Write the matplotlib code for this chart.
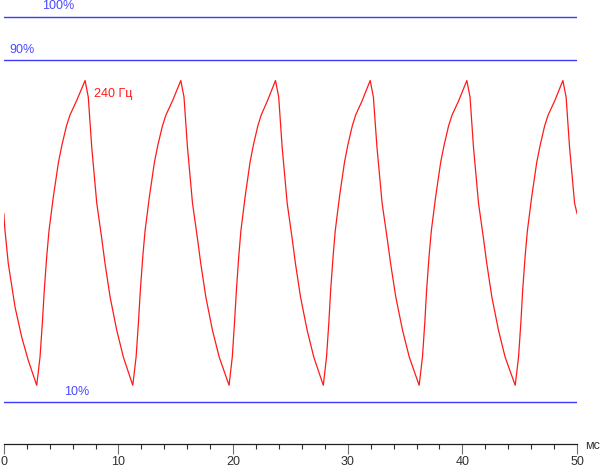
import matplotlib
matplotlib.use("Agg")
import matplotlib.pyplot as plt
from matplotlib.ticker import MultipleLocator

plt.rcParams['font.family'] = ['Liberation Sans', 'DejaVu Sans']

# time (ms) and level (%)
t_ms = [
    0.00, 0.10, 0.39, 0.98, 1.56, 2.14, 2.87,
    3.16, 3.36, 3.53, 3.74, 3.94, 4.32, 4.77, 5.07, 5.47, 5.77, 6.37, 7.09,
    7.37, 7.67, 8.11, 8.54, 8.83, 9.27, 9.85, 10.43, 11.25,
    11.54, 11.74, 11.91, 12.12, 12.32, 12.70, 13.14, 13.44, 13.84, 14.14, 14.74, 15.44,
    15.72, 16.02, 16.46, 16.89, 17.18, 17.62, 18.20, 18.79, 19.65,
    19.93, 20.12, 20.29, 20.49, 20.68, 21.05, 21.48, 21.77, 22.16, 22.45, 23.02, 23.70,
    23.98, 24.28, 24.72, 25.15, 25.44, 25.88, 26.46, 27.04, 27.87,
    28.15, 28.35, 28.51, 28.72, 28.91, 29.28, 29.72, 30.01, 30.40, 30.69, 31.28, 31.96,
    32.24, 32.55, 33.00, 33.44, 33.74, 34.19, 34.78, 35.37, 36.23,
    36.52, 36.72, 36.88, 37.09, 37.29, 37.67, 38.11, 38.41, 38.80, 39.10, 39.70, 40.39,
    40.67, 40.97, 41.41, 41.84, 42.13, 42.57, 43.15, 43.73, 44.61,
    44.90, 45.10, 45.26, 45.47, 45.67, 46.05, 46.49, 46.79, 47.18, 47.48, 48.08, 48.77,
    49.05, 49.35, 49.79, 50.00,
]
level_pct = [
    54.0, 50.1, 42.3, 32.1, 25.1, 19.6, 13.8,
    20.4, 28.3, 36.0, 43.8, 49.9, 57.9, 66.0, 70.0, 74.5, 77.0, 80.5, 85.1,
    81.2, 69.5, 56.4, 48.2, 42.3, 34.5, 26.7, 20.4, 13.8,
    20.4, 28.3, 36.0, 43.8, 49.9, 57.9, 66.0, 70.0, 74.5, 77.0, 80.5, 85.1,
    81.2, 69.5, 56.4, 48.2, 42.3, 34.5, 26.7, 20.4, 13.8,
    20.4, 28.3, 36.0, 43.8, 49.9, 57.9, 66.0, 70.0, 74.5, 77.0, 80.5, 85.1,
    81.2, 69.5, 56.4, 48.2, 42.3, 34.5, 26.7, 20.4, 13.8,
    20.4, 28.3, 36.0, 43.8, 49.9, 57.9, 66.0, 70.0, 74.5, 77.0, 80.5, 85.1,
    81.2, 69.5, 56.4, 48.2, 42.3, 34.5, 26.7, 20.4, 13.8,
    20.4, 28.3, 36.0, 43.8, 49.9, 57.9, 66.0, 70.0, 74.5, 77.0, 80.5, 85.1,
    81.2, 69.5, 56.4, 48.2, 42.3, 34.5, 26.7, 20.4, 13.8,
    20.4, 28.3, 36.0, 43.8, 49.9, 57.9, 66.0, 70.0, 74.5, 77.0, 80.5, 85.1,
    81.2, 69.5, 56.4, 54.0,
]

ref_levels = [100, 90, 10]
ref_labels = ["100%", "90%", "10%"]
ref_label_x = [3.31, 0.48, 5.25]
ref_label_y = [101.9, 91.5, 11.5]

freq_label = "240 Гц"
freq_label_pos = (7.90, 81.2)

x_ticks = [0, 10, 20, 30, 40, 50]
x_unit = "мс"

BLUE = '#3c3cff'
RED = '#ff1a1a'

fig = plt.figure(figsize=(6.0, 4.68), dpi=100)
ax = fig.add_axes([3.8 / 600, (468 - 444.3) / 468, (577.0 - 3.8) / 600, 444.3 / 468])
ax.set_xlim(0, 50)
ax.set_ylim(0, 444.3 / 4.275)

for lv in ref_levels:
    ax.axhline(lv, color=BLUE, lw=1.0)
for lab, lx, ly in zip(ref_labels, ref_label_x, ref_label_y):
    ax.text(lx, ly, lab, color='#4a4aff', fontsize=9, ha='left', va='baseline')

ax.plot(t_ms, level_pct, color=RED, lw=0.9)
ax.text(freq_label_pos[0], freq_label_pos[1], freq_label, color=RED,
        fontsize=9, ha='left', va='baseline')

for s in ['left', 'right', 'top']:
    ax.spines[s].set_visible(False)
ax.spines['bottom'].set_color('#202020')
ax.spines['bottom'].set_linewidth(0.9)
ax.set_yticks([])
ax.set_xticks(x_ticks)
ax.set_xticklabels([str(v) for v in x_ticks])
ax.xaxis.set_minor_locator(MultipleLocator(2))
ax.tick_params(axis='x', which='major', length=7.2, width=0.8, color='#707070',
               labelsize=9, labelcolor='#303030', pad=1.5)
ax.tick_params(axis='x', which='minor', length=3.6, width=0.8, color='#303030')

fig.text(585 / 600, 1 - 446 / 468, x_unit, fontsize=9, color='#303030',
         ha='left', va='center')

fig.savefig('out.png', dpi=100)
